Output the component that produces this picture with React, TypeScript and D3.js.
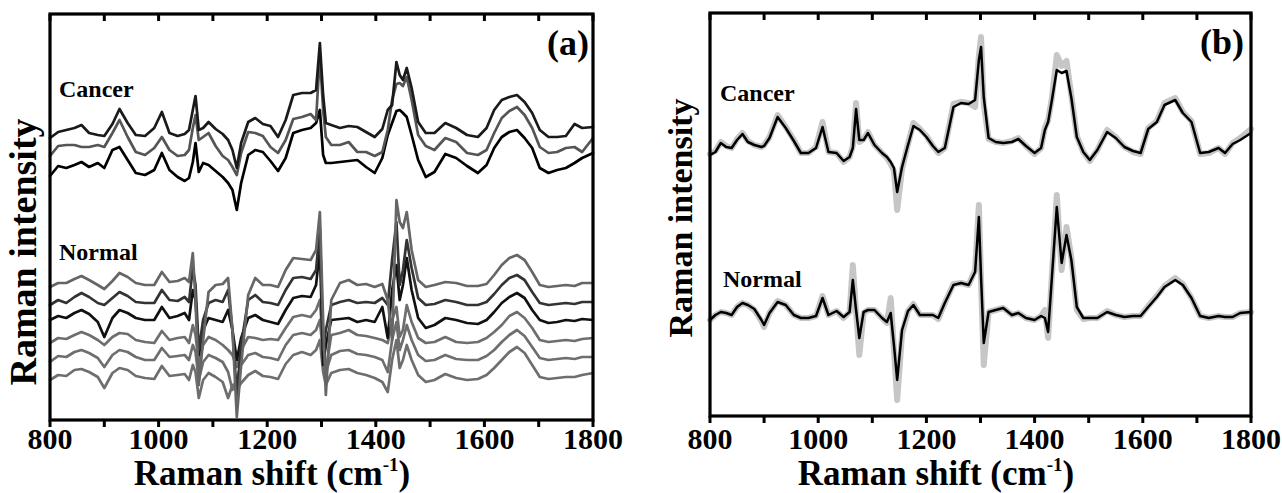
import React from 'react';
import * as d3 from 'd3';

// Raman shift grid (cm-1) shared by the spectra of panel (a)
const shiftA = [
  800, 815, 830, 845, 858, 872, 888, 900, 915, 928, 943, 958, 975, 992, 1006, 1020, 1035, 1048, 1056, 1063,
  1068, 1074, 1082, 1092, 1105, 1118, 1128, 1136, 1144, 1152, 1165, 1178, 1192, 1206, 1220, 1234, 1248, 1264, 1280, 1290,
  1297, 1303, 1308, 1318, 1334, 1350, 1366, 1382, 1398, 1412, 1422, 1430, 1438, 1444, 1450, 1457, 1466, 1478, 1492, 1508,
  1528, 1548, 1568, 1588, 1604, 1618, 1632, 1646, 1660, 1674, 1688, 1702, 1718, 1734, 1750, 1766, 1780, 1800,
];

// panel (a), cancer spectra (offset intensity, a.u.)
const cancerA1 = [
  282, 288, 290, 292, 295, 287, 285, 284, 296, 311, 297, 285, 284, 292, 308, 287, 284, 286, 290, 310,
  324, 290, 292, 298, 291, 286, 280, 270, 252, 277, 298, 302, 296, 294, 283, 300, 325, 327, 327, 330,
  377, 325, 297, 295, 292, 294, 293, 288, 283, 291, 310, 315, 358, 345, 340, 352, 332, 298, 287, 287,
  297, 292, 285, 283, 292, 310, 320, 323, 325, 318, 307, 290, 283, 283, 284, 296, 292, 293,
];
const cancerA2 = [
  264, 274, 275, 275, 273, 273, 275, 273, 287, 300, 283, 268, 265, 272, 283, 270, 264, 265, 270, 292,
  305, 280, 283, 287, 274, 264, 260, 253, 245, 267, 288, 287, 284, 273, 267, 280, 301, 303, 306, 300,
  365, 310, 283, 275, 275, 278, 268, 268, 264, 268, 290, 320, 336, 337, 334, 343, 320, 285, 274, 270,
  282, 278, 267, 265, 270, 287, 302, 309, 313, 305, 292, 273, 267, 268, 272, 273, 268, 282,
];
const cancerA3 = [
  244, 254, 252, 255, 258, 253, 257, 252, 270, 273, 260, 247, 245, 250, 267, 250, 243, 239, 242, 258,
  277, 248, 257, 255, 249, 243, 237, 230, 210, 237, 265, 270, 268, 259, 249, 262, 287, 290, 292, 297,
  310, 265, 257, 257, 258, 259, 260, 253, 247, 262, 285, 297, 309, 310, 307, 303, 285, 260, 243, 248,
  266, 262, 254, 247, 255, 272, 283, 288, 290, 282, 272, 252, 247, 250, 252, 257, 262, 267,
];

// panel (a), normal spectra
const normalA1 = [
  133, 137, 137, 141, 144, 140, 135, 131, 139, 147, 143, 137, 135, 135, 148, 138, 139, 142, 138, 167,
  120, 35, 80, 128, 135, 136, 142, 90, 3, 55, 125, 142, 135, 135, 133, 150, 162, 161, 160, 170,
  208, 100, 25, 120, 137, 140, 135, 136, 133, 136, 120, 80, 220, 198, 192, 208, 170, 140, 133, 135,
  138, 137, 134, 134, 136, 145, 155, 162, 165, 160, 148, 135, 133, 134, 135, 134, 137, 137,
];
const normalA2 = [
  115, 120, 117, 123, 127, 123, 117, 115, 122, 128, 124, 118, 117, 117, 130, 120, 119, 123, 118, 152,
  135, 70, 100, 117, 120, 118, 130, 90, 25, 75, 120, 125, 118, 117, 115, 130, 142, 143, 141, 150,
  192, 70, 90, 115, 118, 120, 117, 118, 117, 122, 115, 160, 198, 135, 150, 180, 152, 122, 115, 116,
  120, 118, 115, 115, 118, 126, 135, 142, 145, 140, 128, 117, 115, 116, 117, 116, 118, 118,
];
const normalA3 = [
  100, 104, 102, 107, 110, 106, 98, 83, 102, 110, 107, 102, 100, 100, 113, 102, 104, 107, 100, 130,
  120, 65, 90, 102, 100, 98, 110, 90, 60, 82, 102, 105, 100, 98, 96, 110, 122, 124, 123, 135,
  172, 55, 75, 100, 101, 102, 98, 100, 98, 113, 82, 130, 155, 120, 135, 162, 130, 102, 92, 95,
  102, 100, 97, 96, 100, 108, 117, 123, 127, 122, 110, 100, 97, 98, 100, 99, 101, 100,
];
const normalA4 = [
  77, 82, 81, 85, 88, 85, 80, 75, 83, 87, 86, 80, 78, 77, 89, 80, 82, 83, 77, 95,
  85, 57, 75, 83, 80, 75, 70, 65, 53, 70, 83, 82, 80, 81, 80, 92, 103, 105, 103, 110,
  120, 75, 50, 85, 87, 90, 85, 84, 82, 80, 77, 100, 113, 83, 90, 115, 98, 82, 77, 78,
  83, 78, 77, 78, 82, 88, 95, 104, 108, 102, 92, 80, 78, 79, 80, 79, 81, 82,
];
const normalA5 = [
  58, 64, 63, 68, 70, 67, 62, 53, 65, 70, 68, 63, 60, 60, 72, 63, 64, 65, 60, 75,
  68, 40, 58, 65, 62, 58, 48, 30, 42, 55, 65, 67, 63, 62, 60, 75, 85, 87, 85, 90,
  100, 65, 48, 65, 69, 70, 66, 65, 63, 60, 48, 80, 98, 70, 80, 95, 80, 65, 59, 60,
  65, 61, 60, 60, 64, 70, 78, 85, 90, 84, 73, 62, 60, 61, 62, 61, 63, 63,
];
const normalA6 = [
  40, 45, 44, 50, 51, 48, 43, 32, 47, 52, 50, 44, 42, 41, 54, 44, 45, 46, 40, 55,
  48, 22, 40, 47, 43, 38, 22, 35, 30, 37, 45, 49, 44, 43, 41, 56, 65, 68, 65, 70,
  80, 48, 35, 47, 50, 51, 47, 45, 42, 38, 28, 60, 80, 52, 60, 75, 60, 45, 38, 40,
  46, 42, 40, 41, 45, 52, 60, 68, 73, 67, 55, 43, 41, 42, 43, 43, 45, 47,
];

// Raman shift grid (cm-1) of panel (b)
const shiftB = [
  800, 810, 820, 830, 840, 850, 860, 870, 882, 895, 900, 910, 925, 940, 955, 968, 982, 996, 1008, 1019,
  1034, 1047, 1058, 1064, 1070, 1076, 1084, 1092, 1104, 1118, 1127, 1134, 1140, 1146, 1155, 1166, 1176, 1188, 1200, 1212,
  1222, 1234, 1250, 1264, 1278, 1290, 1297, 1301, 1306, 1315, 1328, 1342, 1358, 1370, 1384, 1400, 1412, 1419, 1425, 1432,
  1441, 1450, 1459, 1468, 1478, 1490, 1502, 1516, 1534, 1550, 1566, 1582, 1596, 1610, 1626, 1640, 1660, 1674, 1690, 1706,
  1722, 1740, 1752, 1766, 1780, 1800,
];

// panel (b), mean spectra (black) and their spread (grey)
const cancerB = [
  261, 264, 273, 269, 268, 276, 282, 274, 271, 269, 270, 278, 299, 288, 275, 263, 263, 268, 289, 264,
  263, 255, 259, 268, 307, 276, 276, 283, 271, 263, 259, 254, 248, 224, 249, 271, 290, 286, 279, 270,
  264, 268, 309, 313, 312, 316, 356, 369, 319, 278, 274, 273, 274, 277, 270, 263, 268, 286, 294, 316,
  346, 343, 345, 318, 279, 264, 256, 266, 284, 278, 269, 265, 263, 287, 294, 311, 316, 303, 294, 263,
  264, 268, 263, 272, 276, 283,
];
const cancerBGrey = [
  262, 265, 274, 270, 268, 277, 283, 275, 271, 269, 271, 279, 301, 289, 276, 263, 263, 269, 294, 264,
  263, 254, 259, 270, 313, 274, 277, 284, 271, 263, 258, 252, 245, 206, 247, 272, 293, 287, 280, 270,
  263, 268, 312, 314, 313, 309, 360, 379, 312, 277, 274, 273, 275, 278, 270, 262, 268, 288, 296, 318,
  361, 350, 355, 320, 280, 264, 255, 266, 286, 279, 269, 264, 262, 288, 295, 313, 318, 304, 295, 262,
  263, 268, 262, 273, 278, 287,
];
const normalB = [
  96, 101, 104, 103, 101, 109, 113, 111, 107, 96, 91, 103, 114, 111, 101, 98, 98, 100, 118, 101,
  105, 99, 104, 136, 106, 78, 104, 106, 106, 98, 94, 103, 71, 36, 86, 105, 111, 101, 101, 101,
  98, 113, 131, 133, 131, 144, 199, 139, 73, 104, 106, 108, 101, 103, 98, 96, 100, 98, 84, 139,
  209, 153, 181, 156, 109, 98, 98, 98, 104, 101, 99, 100, 100, 109, 119, 129, 136, 131, 118, 100,
  98, 100, 99, 99, 103, 104,
];
const normalBGrey = [
  96, 101, 104, 103, 101, 109, 113, 111, 106, 95, 89, 103, 115, 111, 101, 98, 98, 100, 120, 101,
  105, 98, 104, 151, 104, 61, 103, 106, 106, 98, 93, 118, 66, 16, 82, 105, 112, 101, 101, 101,
  97, 113, 132, 133, 131, 146, 211, 135, 51, 104, 106, 108, 101, 103, 98, 96, 100, 106, 78, 141,
  221, 146, 189, 158, 106, 97, 98, 98, 105, 101, 99, 100, 100, 110, 120, 130, 138, 132, 118, 100,
  98, 100, 99, 99, 103, 104,
];

const shiftTicks = [800, 900, 1000, 1100, 1200, 1300, 1400, 1500, 1600, 1700, 1800];
const shiftLabels = [800, 1000, 1200, 1400, 1600, 1800];

const FONT = '"Liberation Serif", "Times New Roman", serif';

type Trace = { x: number[]; y: number[]; color: string; width: number };
type Note = { text: string; x: number; y: number };

type PanelProps = {
  left: number;
  right: number;
  top: number;
  bottom: number;
  yMax: number;
  traces: Trace[];
  tag: string;
  tagRight: number;
  notes: Note[];
  xTitleX: number;
  yTitleX: number;
  yTitleY: number;
  yTitleSize: number;
};

function Panel(p: PanelProps) {
  const x = d3.scaleLinear().domain([800, 1800]).range([p.left, p.right]);
  const y = d3.scaleLinear().domain([0, p.yMax]).range([p.bottom, p.top]);

  return (
    <g>
      {p.traces.map((t, i) => {
        const line = d3
          .line<number>()
          .x((_, j) => x(t.x[j]))
          .y((d) => y(d));
        return (
          <path
            key={i}
            d={line(t.y) || ''}
            fill="none"
            stroke={t.color}
            strokeWidth={t.width}
            strokeLinejoin="round"
            strokeLinecap="round"
          />
        );
      })}

      <rect
        x={p.left}
        y={p.top}
        width={p.right - p.left}
        height={p.bottom - p.top}
        fill="none"
        stroke="#000"
        strokeWidth={3.2}
      />

      {shiftTicks.map((t) => (
        <g key={t}>
          <line x1={x(t)} x2={x(t)} y1={p.top} y2={p.top + 7} stroke="#000" strokeWidth={3} />
          <line x1={x(t)} x2={x(t)} y1={p.bottom} y2={p.bottom + 7} stroke="#000" strokeWidth={3} />
        </g>
      ))}

      {shiftLabels.map((t) => (
        <text
          key={t}
          x={x(t)}
          y={449}
          textAnchor="middle"
          fontFamily={FONT}
          fontWeight="bold"
          fontSize={30}
        >
          {t}
        </text>
      ))}

      <text x={p.xTitleX} y={485} textAnchor="middle" fontFamily={FONT} fontWeight="bold" fontSize={35}>
        Raman shift (cm
        <tspan fontSize={19} dy={-14}>-1</tspan>
        <tspan dy={14}>)</tspan>
      </text>

      <text
        transform={`translate(${p.yTitleX},${p.yTitleY}) rotate(-90)`}
        textAnchor="middle"
        fontFamily={FONT}
        fontWeight="bold"
        fontSize={p.yTitleSize}
      >
        Raman intensity
      </text>

      <text x={p.tagRight} y={p.top + 41} textAnchor="end" fontFamily={FONT} fontWeight="bold" fontSize={36}>
        {p.tag}
      </text>

      {p.notes.map((n) => (
        <text key={n.text} x={n.x} y={n.y} fontFamily={FONT} fontWeight="bold" fontSize={24}>
          {n.text}
        </text>
      ))}
    </g>
  );
}

export default function App() {
  const tracesA: Trace[] = [
    { x: shiftA, y: normalA6, color: '#6e6e6e', width: 2.7 },
    { x: shiftA, y: normalA5, color: '#6e6e6e', width: 2.7 },
    { x: shiftA, y: normalA4, color: '#6e6e6e', width: 2.7 },
    { x: shiftA, y: normalA3, color: '#111', width: 2.7 },
    { x: shiftA, y: normalA2, color: '#333', width: 2.7 },
    { x: shiftA, y: normalA1, color: '#666', width: 2.7 },
    { x: shiftA, y: cancerA3, color: '#000', width: 2.7 },
    { x: shiftA, y: cancerA2, color: '#555', width: 2.7 },
    { x: shiftA, y: cancerA1, color: '#1a1a1a', width: 2.7 },
  ];
  const tracesB: Trace[] = [
    { x: shiftB, y: cancerBGrey, color: '#c6c6c6', width: 6 },
    { x: shiftB, y: normalBGrey, color: '#c6c6c6', width: 6 },
    { x: shiftB, y: cancerB, color: '#000', width: 2.5 },
    { x: shiftB, y: normalB, color: '#000', width: 2.5 },
  ];

  return (
    <svg
      width={1282}
      height={493}
      style={{ position: 'absolute', left: 0, top: 0, background: '#fff' }}
    >
      <Panel
        left={50}
        right={593}
        top={14}
        bottom={420}
        yMax={406}
        traces={tracesA}
        tag="(a)"
        tagRight={589}
        notes={[
          { text: 'Cancer', x: 59, y: 97 },
          { text: 'Normal', x: 59, y: 260 },
        ]}
        xTitleX={272}
        yTitleX={36}
        yTitleY={252}
        yTitleSize={38}
      />
      <Panel
        left={710}
        right={1251}
        top={13}
        bottom={416}
        yMax={403}
        traces={tracesB}
        tag="(b)"
        tagRight={1244}
        notes={[
          { text: 'Cancer', x: 720, y: 101 },
          { text: 'Normal', x: 723, y: 287 },
        ]}
        xTitleX={936}
        yTitleX={692}
        yTitleY={218}
        yTitleSize={34}
      />
    </svg>
  );
}
